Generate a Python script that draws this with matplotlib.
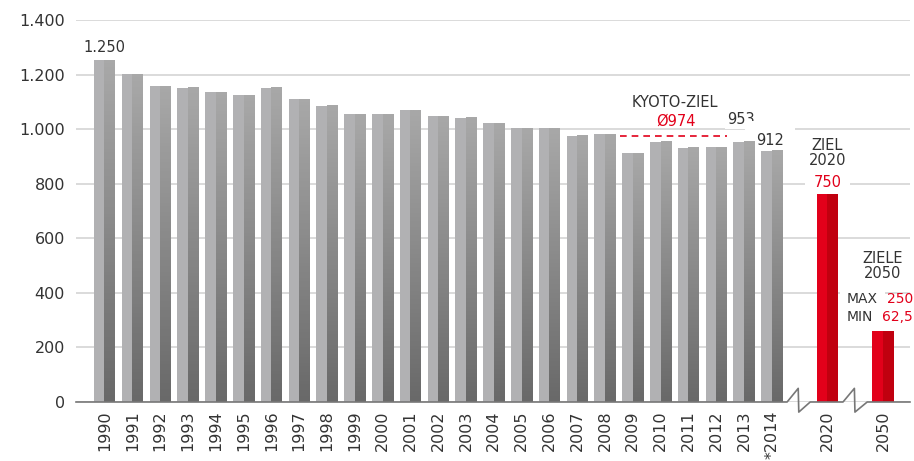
import numpy as np
import matplotlib
matplotlib.use('Agg')
import matplotlib.pyplot as plt
from matplotlib.colors import LinearSegmentedColormap

# data
years = ['1990', '1991', '1992', '1993', '1994', '1995', '1996', '1997', '1998',
         '1999', '2000', '2001', '2002', '2003', '2004', '2005', '2006', '2007',
         '2008', '2009', '2010', '2011', '2012', '2013', '*2014']
values = [1253, 1202, 1158, 1151, 1136, 1125, 1151, 1110, 1085, 1055, 1055, 1070,
          1048, 1041, 1022, 1004, 1004, 975, 982, 912, 953, 931, 934, 953, 920]
target_years = ['2020', '2050']
target_values = [762, 260]
kyoto_avg = 974
yticks = [0, 200, 400, 600, 800, 1000, 1200, 1400]
ytick_labels = ['0', '200', '400', '600', '800', '1.000', '1.200', '1.400']

TXT = '#333333'
RED = '#e2001a'

fig = plt.figure(figsize=(9.14, 4.61), dpi=100)
ax = fig.add_axes([76 / 914, 1 - 402 / 461, (910 - 76) / 914, (402 - 20) / 461])

pos = list(range(len(years)))
tpos = [26, 28]
w = 0.76

# gray bars: light left half, gradient right half
ax.bar([p - w / 4 for p in pos], values, width=w / 2, color='#b1b1b3', zorder=3)
cmap = LinearSegmentedColormap.from_list('g', ['#696969', '#a8a8a8'])
grad = np.linspace(0, 1, 100).reshape(-1, 1)
for p, v in zip(pos, values):
    ax.imshow(grad, extent=(p, p + w / 2, 0, v), origin='lower', aspect='auto',
              cmap=cmap, zorder=3)

# red target bars
ax.bar([p - w / 4 for p in tpos], target_values, width=w / 2, color=RED, zorder=3)
ax.bar([p + w / 4 for p in tpos], target_values, width=w / 2, color='#c0000f', zorder=3)

ax.set_xlim(-1.025, 28.97)
ax.set_ylim(0, 1400)

# grid
ax.set_yticks(yticks)
ax.set_yticklabels(ytick_labels, fontsize=11.5, color=TXT)
ax.yaxis.grid(True, color='#d4d4d4', linewidth=1.2, zorder=0)
ax.set_axisbelow(True)
for s in ax.spines.values():
    s.set_visible(False)
ax.tick_params(axis='both', length=0)
ax.tick_params(axis='y', pad=8)
ax.set_xticks(pos + tpos)
ax.set_xticklabels(years + target_years, rotation=90, fontsize=11.5, color=TXT)
ax.tick_params(axis='x', pad=6)

# baseline with axis breaks
bx = [-1.025, 24.55, 24.95, 24.97, 25.38, 26.56, 26.97, 26.99, 27.43, 28.97]
by = [0, 0, 50, -37, 0, 0, 50, -37, 0, 0]
ax.plot(bx, by, color='#777777', linewidth=1.2, clip_on=False, zorder=4)

# labels
fs = 10.5
ax.text(pos[0], values[0] + 18, '1.250', ha='center', va='bottom', fontsize=fs, color=TXT)
ax.text(20.52, 1099, 'KYOTO-ZIEL', ha='center', va='center', fontsize=fs, color=TXT)
ax.text(20.55, 1030, '\u00d8' + str(kyoto_avg), ha='center', va='center', fontsize=fs, color=RED)
ax.plot([18.55, 22.4], [kyoto_avg, kyoto_avg], color=RED, linestyle=(0, (4, 3)),
        linewidth=1.2, zorder=4)
ax.text(22.9, 1037, '953', ha='center', va='center', fontsize=fs, color=TXT, zorder=2,
        bbox=dict(facecolor='white', edgecolor='none', pad=2))
ax.text(23.95, 960, '912', ha='center', va='center', fontsize=fs, color=TXT, zorder=2,
        bbox=dict(facecolor='white', edgecolor='none', pad=8))
ax.text(26, 912, 'ZIEL\n2020', ha='center', va='center', fontsize=fs, color=TXT,
        linespacing=1.0, zorder=2)
ax.text(26, 806, '750', ha='center', va='center', fontsize=fs, color=RED, zorder=2,
        bbox=dict(facecolor='white', edgecolor='none', pad=6))
ax.text(28, 500, 'ZIELE\n2050', ha='center', va='center', fontsize=fs, color=TXT,
        linespacing=1.0)
ax.text(26.7, 377, 'MAX', ha='left', va='center', fontsize=10, color=TXT,
        zorder=2, bbox=dict(facecolor='white', edgecolor='none', pad=5))
ax.text(26.7, 311, 'MIN', ha='left', va='center', fontsize=10, color=TXT, zorder=2)
ax.text(29.08, 377, '250', ha='right', va='center', fontsize=10, color=RED, zorder=2,
        clip_on=False)
ax.text(29.08, 311, '62,5', ha='right', va='center', fontsize=10, color=RED, zorder=2,
        clip_on=False)

fig.savefig('out.png', dpi=100)
